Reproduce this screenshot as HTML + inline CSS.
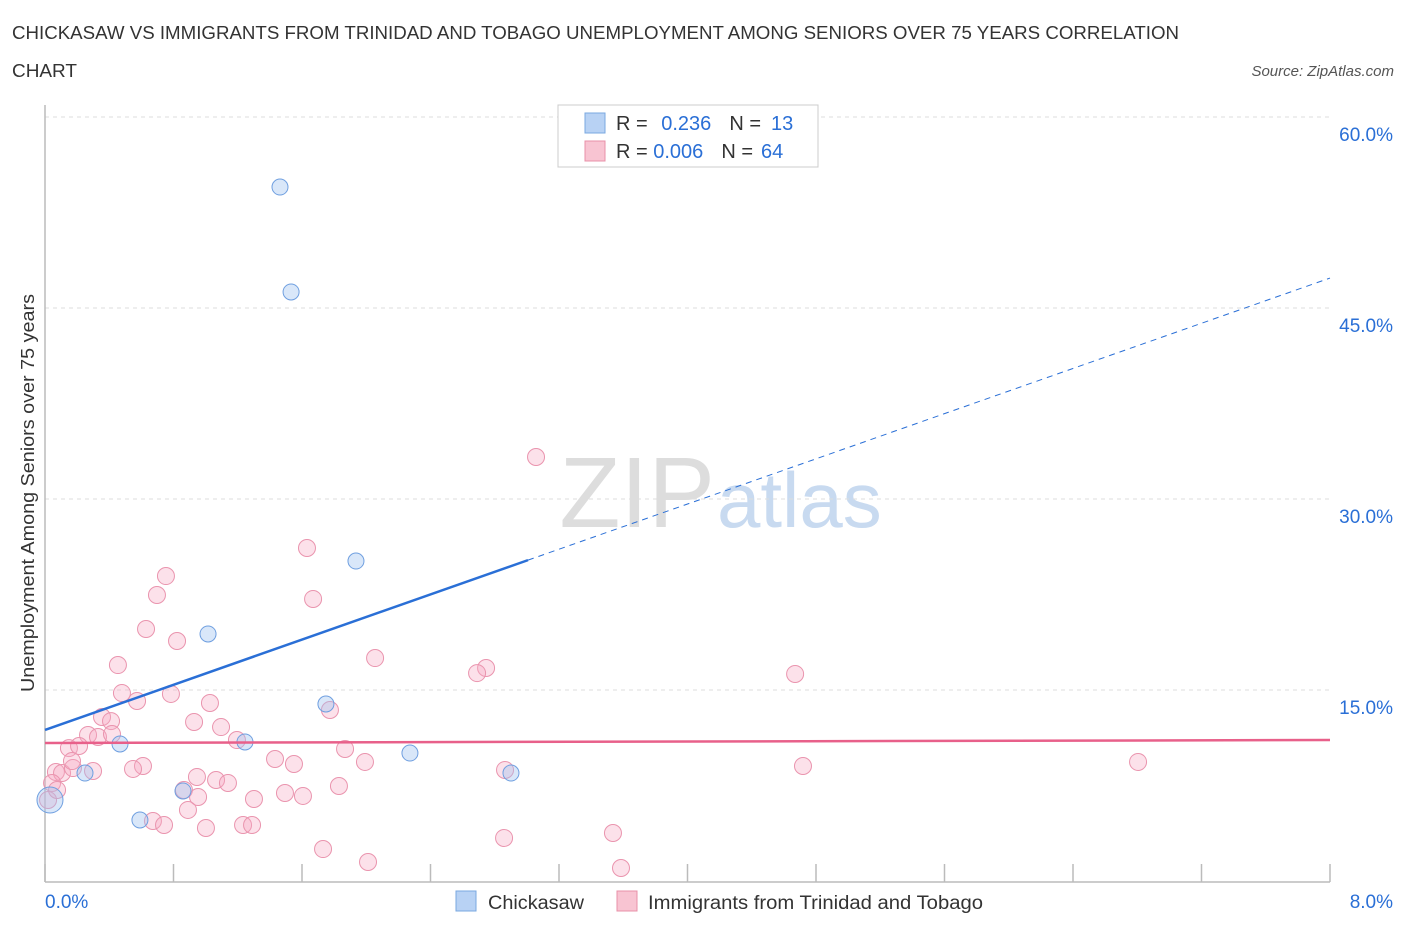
<!DOCTYPE html>
<html><head><meta charset="utf-8"><style>
body{margin:0;background:#fff;font-family:"Liberation Sans",sans-serif;}
svg text{font-family:"Liberation Sans",sans-serif;}
</style></head><body>
<svg id="c" width="1406" height="930">
<text x="12" y="39" font-size="18" fill="#333" textLength="1167" lengthAdjust="spacingAndGlyphs">CHICKASAW VS IMMIGRANTS FROM TRINIDAD AND TOBAGO UNEMPLOYMENT AMONG SENIORS OVER 75 YEARS CORRELATION</text>
<text x="12" y="77" font-size="18" fill="#333" textLength="65" lengthAdjust="spacingAndGlyphs">CHART</text>
<text x="1394" y="76" font-size="15" fill="#555" font-style="italic" text-anchor="end">Source: ZipAtlas.com</text>
<text x="715" y="527" font-size="100" fill="#ddd" text-anchor="end" font-family="Liberation Serif">ZIP</text>
<text x="717" y="527" font-size="78" fill="#c8daf0">atlas</text>
<text transform="translate(34,493) rotate(-90)" font-size="18" fill="#333" text-anchor="middle" textLength="398" lengthAdjust="spacingAndGlyphs">Unemployment Among Seniors over 75 years</text>
<g id="grid"></g><g id="pts"></g><g id="lines"></g>
<rect x="558" y="105" width="260" height="62" fill="#fff" stroke="#ccc"/>
<rect x="585" y="113" width="20" height="20" fill="#b8d2f4" stroke="#7aa8e0"/>
<text x="616" y="130" font-size="20" fill="#333">R = <tspan fill="#2a6fd6" dx="8">0.236</tspan><tspan fill="#333" dx="18">N =</tspan><tspan fill="#2a6fd6" dx="10">13</tspan></text>
<rect x="585" y="141" width="20" height="20" fill="#f8c4d2" stroke="#e890a8"/>
<text x="616" y="158" font-size="20" fill="#333">R = <tspan fill="#2a6fd6">0.006</tspan><tspan fill="#333" dx="18">N =</tspan><tspan fill="#2a6fd6" dx="8">64</tspan></text>
<rect x="456" y="891" width="20" height="20" fill="#b8d2f4" stroke="#7aa8e0"/>
<text x="488" y="909" font-size="19" fill="#333" textLength="96" lengthAdjust="spacingAndGlyphs">Chickasaw</text>
<rect x="617" y="891" width="20" height="20" fill="#f8c4d2" stroke="#e890a8"/>
<text x="648" y="909" font-size="19" fill="#333" textLength="335" lengthAdjust="spacingAndGlyphs">Immigrants from Trinidad and Tobago</text>
<text x="45" y="908" font-size="19" fill="#2a6fd6">0.0%</text>
<text x="1393" y="908" font-size="19" fill="#2a6fd6" text-anchor="end">8.0%</text>
</svg>
<script>
const yTicks=[15,30,45,60];
const yTickLabels=["15.0%","30.0%","45.0%","60.0%"];
const xTicks=[0,0.8,1.6,2.4,3.2,4.0,4.8,5.6,6.4,7.2,8.0];
const blueX=[1.463,1.532,1.936,1.015,1.749,1.245,0.467,2.272,2.901,0.249,0.859,0.591,0.031];
const blueY=[54.5,46.26,25.13,19.40,13.90,10.92,10.76,10.05,8.48,8.48,7.07,4.79,6.36];
const pinkX=[3.057,1.631,0.753,0.697,1.669,0.629,0.822,2.055,0.454,2.746,2.690,4.670,0.479,0.784,0.573,1.027,0.355,0.411,1.774,0.928,1.096,0.268,0.330,1.195,0.149,0.212,1.868,1.432,1.550,6.805,4.719,0.610,0.548,1.992,2.864,0.068,0.106,0.299,0.174,0.946,1.065,1.139,1.830,0.865,1.494,1.606,0.953,1.301,0.890,0.672,0.741,1.233,1.289,1.002,3.536,2.858,1.731,2.011,3.586,0.044,0.019,0.075,0.168,0.417];
const pinkY=[33.30,26.15,23.95,22.46,22.15,19.79,18.85,17.51,16.96,16.73,16.33,16.26,14.76,14.69,14.14,13.98,12.88,12.56,13.43,12.49,12.09,11.47,11.31,11.07,10.44,10.60,10.37,9.58,9.19,9.35,9.03,9.03,8.80,9.35,8.72,8.56,8.48,8.64,8.87,8.17,7.93,7.70,7.46,7.15,6.91,6.68,6.60,6.44,5.58,4.71,4.40,4.40,4.40,4.16,3.77,3.38,2.51,1.49,1.02,7.70,6.36,7.15,9.42,11.54];
const blueTrend=[11.86,47.35], blueSolidEnd=3.007;
const pinkTrend=[10.84,11.07];
const X=v=>45+v/8*1285, Y=v=>881-v/15*191;
const NS="http://www.w3.org/2000/svg";
function mk(p,t,a){const e=document.createElementNS(NS,t);for(const k in a)e.setAttribute(k,a[k]);document.getElementById(p).appendChild(e);return e;}
yTicks.forEach((t,i)=>{
 const l=mk('grid','line',{x1:45,x2:1330,y1:Y(t),y2:Y(t),stroke:'#ddd','stroke-dasharray':'4,4'});
 
 
 const tx=mk('grid','text',{x:1393,y:Y(t)+24,'font-size':19,fill:'#2a6fd6','text-anchor':'end'});
 tx.textContent=yTickLabels[i];
 
 
});
const ax=mk('grid','line',{x1:45,x2:1330,y1:882,y2:882,stroke:'#bbb','stroke-width':1.5});


const ay=mk('grid','line',{x1:45,x2:45,y1:105,y2:882,stroke:'#bbb','stroke-width':1.5});


xTicks.forEach(t=>{
 const l=mk('grid','line',{x1:X(t),x2:X(t),y1:864,y2:882,stroke:'#bbb','stroke-width':1.5});
 
 
});
pinkX.forEach((x,i)=>{
 const c=mk('pts','circle',{cx:X(x),cy:Y(pinkY[i]),r:8.5,fill:'rgba(245,170,195,0.35)',stroke:'#ea94ae','stroke-width':1});
 
 
});
blueX.forEach((x,i)=>{
 const c=mk('pts','circle',{cx:X(x),cy:Y(blueY[i]),r:i==12?13:8,fill:'rgba(160,195,240,0.4)',stroke:'#6f9fe0','stroke-width':1});
 
 
});
const by=v=>blueTrend[0]+(blueTrend[1]-blueTrend[0])*v/8;
const b1=mk('lines','line',{x1:X(0),y1:Y(by(0)),x2:X(blueSolidEnd),y2:Y(by(blueSolidEnd)),stroke:'#2a6fd6','stroke-width':2.5});


const b2=mk('lines','line',{x1:X(blueSolidEnd),y1:Y(by(blueSolidEnd)),x2:X(8),y2:Y(by(8)),stroke:'#2a6fd6','stroke-width':1,'stroke-dasharray':'6,5'});


const p1=mk('lines','line',{x1:X(0),y1:Y(pinkTrend[0]),x2:X(8),y2:Y(pinkTrend[1]),stroke:'#e8608a','stroke-width':2.5});


</script>
</body></html>
